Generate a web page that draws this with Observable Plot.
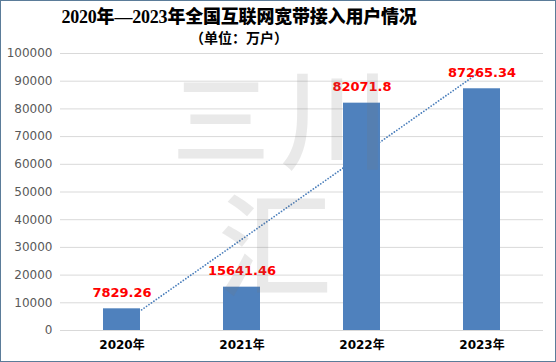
<!DOCTYPE html>
<html>
<head>
<meta charset="utf-8">
<script src="https://cdn.jsdelivr.net/npm/d3@7"></script>
<script src="https://cdn.jsdelivr.net/npm/@observablehq/plot@0.6"></script>
<style>
  html, body { margin: 0; padding: 0; background: #fff; }
  #chart { position: relative; width: 556px; height: 362px; overflow: hidden; background: #fff; }
  #title { position: absolute; left: 0; width: 478px; top: 6px; text-align: center;
    font-family: "Liberation Serif", "Noto Sans CJK SC", serif; font-weight: 900; font-size: 18px; line-height: 22px; color: #000; letter-spacing: -0.2px; }
  #subtitle { position: absolute; left: 0; width: 478px; top: 29px; text-align: center;
    font-family: "Noto Sans CJK SC", sans-serif; font-weight: bold; font-size: 14px; line-height: 16px; color: #000; }
  #plot { position: absolute; left: 0; top: 45px; }
  .wm { position: absolute; font-family: "Noto Sans CJK SC", sans-serif; font-weight: 500; line-height: 1;
    color: rgba(120,120,120,0.16); pointer-events: none; }
  #frame { position: absolute; left: 0; top: 0; width: 556px; height: 362px; box-sizing: border-box;
    border: 1.5px solid #5b7c99; pointer-events: none; }
  g[aria-label="x-axis tick label"] text { font-weight: bold; fill: #000; font-size: 12px; }
  g[aria-label="y-axis tick label"] text { fill: #595959; font-size: 12px; }
</style>
</head>
<body>
<div id="chart">
  <div id="title">2020年—2023年全国互联网宽带接入用户情况</div>
  <div id="subtitle">（单位：万户）</div>
  <div id="plot"></div>
  <div class="wm" style="left:172px; top:64px; font-size:98px;">三</div>
  <div class="wm" style="left:280px; top:58px; font-size:110px;">川</div>
  <div class="wm" style="left:218px; top:182px; font-size:114px;">汇</div>
  <div id="frame"></div>
</div>
<script>
const years = ["2020年", "2021年", "2022年", "2023年"];
const users = [7829.26, 15641.46, 82071.8, 87265.34];
const valueLabels = ["7829.26", "15641.46", "82071.8", "87265.34"];
const yTicks = [0, 10000, 20000, 30000, 40000, 50000, 60000, 70000, 80000, 90000, 100000];

const data = years.map((y, i) => ({ year: y, value: users[i], label: valueLabels[i] }));

// Linear trendline (least squares over category index 1..n), as in the spreadsheet chart
const idx = users.map((_, i) => i + 1);
const mx = d3.mean(idx), my = d3.mean(users);
const slope = d3.sum(idx, (x, i) => (x - mx) * (users[i] - my)) / d3.sum(idx, x => (x - mx) ** 2);
const intercept = my - slope * mx;
const trend = [
  { year: years[0], value: intercept + slope * idx[0] },
  { year: years[years.length - 1], value: intercept + slope * idx[idx.length - 1] }
];

const chart = Plot.plot({
  width: 556,
  height: 317,
  marginTop: 8,
  marginBottom: 32,
  marginLeft: 60,
  marginRight: 13,
  style: { fontFamily: "'DejaVu Sans', 'Noto Sans CJK SC', sans-serif", background: "transparent" },
  x: { domain: years, paddingInner: 0.69, paddingOuter: 0.345, label: null },
  y: { domain: [0, 100000], label: null },
  marks: [
    Plot.gridY(yTicks, { stroke: "#d9d9d9", strokeOpacity: 1 }),
    Plot.line(trend, { x: "year", y: "value", stroke: "#4a7ebb", strokeWidth: 1.8,
      strokeDasharray: "0 3", strokeLinecap: "round" }),
    Plot.barY(data, { x: "year", y: "value", fill: "#4f81bd" }),
    Plot.text(data, { x: "year", y: "value", text: "label", dy: -16, fill: "#ff0000",
      fontWeight: "bold", fontSize: 13, fontFamily: "'DejaVu Sans', sans-serif" }),
    Plot.axisY(yTicks, { tickSize: 0, tickPadding: 8, tickFormat: d => String(d), label: null }),
    Plot.axisX({ tickSize: 0, tickPadding: 10, label: null })
  ]
});
document.getElementById("plot").appendChild(chart);
</script>
</body>
</html>
